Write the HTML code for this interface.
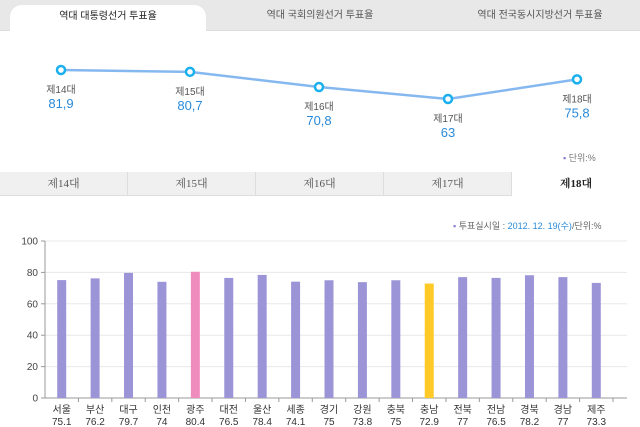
<!DOCTYPE html>
<html><head><meta charset="utf-8"><style>
body{margin:0;width:640px;height:427px;overflow:hidden;background:#fff;font-family:"Liberation Sans","Noto Sans CJK KR",sans-serif;position:relative}
.tabbar{position:absolute;left:0;top:0;width:640px;height:30px;background:#e8e8e8;border-bottom:1px solid #ddd}
.tab{position:absolute;top:0;height:30px;line-height:32px;font-size:10px;color:#555;text-align:center}
.tab.active{background:#fff;border-radius:12px 12px 0 0;top:5px;height:26px;line-height:24px;color:#222}
.sub{position:absolute;top:172px;height:24px;width:128px;line-height:24px;text-align:center;font-family:"Liberation Serif","Noto Serif CJK SC",serif;font-size:11px;color:#555;background:#f0f0f0;border-right:1px solid #ddd;border-bottom:1px solid #ddd;box-sizing:border-box}
.sub.active{background:#fff;font-weight:bold;color:#222;border-bottom:none}
</style></head><body>
<div class="tabbar">
<div class="tab active" style="left:10px;width:196px">역대 대통령선거 투표율</div>
<div class="tab" style="left:220px;width:200px">역대 국회의원선거 투표율</div>
<div class="tab" style="left:440px;width:200px">역대 전국동시지방선거 투표율</div>
</div>
<svg id="line" width="640" height="170" style="position:absolute;left:0;top:0"></svg>
<div style="position:absolute;left:563px;top:151px;font-size:9px;color:#777"><span style="color:#8a7fd0">▪</span> 단위:%</div>
<div class="sub" style="left:0">제14대</div>
<div class="sub" style="left:128px">제15대</div>
<div class="sub" style="left:256px">제16대</div>
<div class="sub" style="left:384px">제17대</div>
<div class="sub active" style="left:512px;border-right:none">제18대</div>
<div style="position:absolute;left:453px;top:219px;font-size:9px;color:#666"><span style="color:#8a7fd0">▪</span> 투표실시일 : <span style="color:#2a8ad8">2012. 12. 19(수)</span>/단위:%</div>
<svg id="bar" width="640" height="230" style="position:absolute;left:0;top:197px"></svg>
<script>
const elections=["제14대","제15대","제16대","제17대","제18대"];
const turnout=[81.9,80.7,70.8,63,75.8];
const regions=["서울","부산","대구","인천","광주","대전","울산","세종","경기","강원","충북","충남","전북","전남","경북","경남","제주"];
const regionTurnout=[75.1,76.2,79.7,74,80.4,76.5,78.4,74.1,75,73.8,75,72.9,77,76.5,78.2,77,73.3];
const yTicks=[0,20,40,60,80,100];
const NS="http://www.w3.org/2000/svg";
function mk(p,t,a,txt){const e=document.createElementNS(NS,t);for(const k in a)e.setAttribute(k,a[k]);if(txt!=null)e.textContent=txt;p.appendChild(e);return e;}
const L=document.getElementById('line');
const lx=i=>61+i*129, ly=v=>70+(81.9-v)*1.534;
const pl=mk(L,'polyline',{points:turnout.map((v,i)=>lx(i)+','+ly(v)).join(' '),fill:'none',stroke:'#86b8f0','stroke-width':2.5});


turnout.forEach((v,i)=>{
 const c=mk(L,'circle',{cx:lx(i),cy:ly(v),r:4,fill:'#fff',stroke:'#1ab0ee','stroke-width':2.5});
 
 
 const t=mk(L,'text',{x:lx(i),y:ly(v)+23,'text-anchor':'middle','font-size':10,fill:'#555','font-family':'Liberation Sans, Noto Sans CJK KR, sans-serif'},elections[i]);
 
 
 const t2=mk(L,'text',{x:lx(i),y:ly(v)+38,'text-anchor':'middle','font-size':13,fill:'#2a8ad8','font-family':'Liberation Sans, sans-serif'},String(v).replace('.',','));
 
 
});
const B=document.getElementById('bar');
const X0=45,X1=613,Y0=201,H=157;
const cw=(X1-X0)/regions.length;
const by=v=>Y0-v/100*H;
yTicks.forEach(t=>{
 const g=mk(B,'line',{x1:X0,x2:X1+14,y1:by(t),y2:by(t),stroke:t?'#e8e8e8':'#999'});
 
 
 const tk=mk(B,'line',{x1:X0-4,x2:X0,y1:by(t),y2:by(t),stroke:'#999'});
 
 
 const tl=mk(B,'text',{x:X0-7,y:by(t)+3.5,'text-anchor':'end','font-size':10,fill:'#444'},t);
 
 
});
const ax=mk(B,'line',{x1:X0,x2:X0,y1:by(100),y2:Y0,stroke:'#999'});


regions.forEach((r,i)=>{
 const cx=X0+cw*(i+0.5);
 const col=r==='광주'?'#f08bbd':r==='충남'?'#ffc928':'#9b95d8';
 const b=mk(B,'rect',{x:cx-4.5,y:by(regionTurnout[i]),width:9,height:Y0-by(regionTurnout[i]),fill:col});
 
 
 const tk=mk(B,'line',{x1:X0+cw*(i+1),x2:X0+cw*(i+1),y1:Y0,y2:Y0+4,stroke:'#999'});
 
 
 const a=mk(B,'text',{x:cx,y:Y0+15,'text-anchor':'middle','font-size':10,fill:'#333','font-family':'Liberation Sans, Noto Sans CJK KR, sans-serif'},r);
 
 
 const v=mk(B,'text',{x:cx,y:Y0+27,'text-anchor':'middle','font-size':10,fill:'#333'},regionTurnout[i]);
 
 
});
</script>
</body></html>
